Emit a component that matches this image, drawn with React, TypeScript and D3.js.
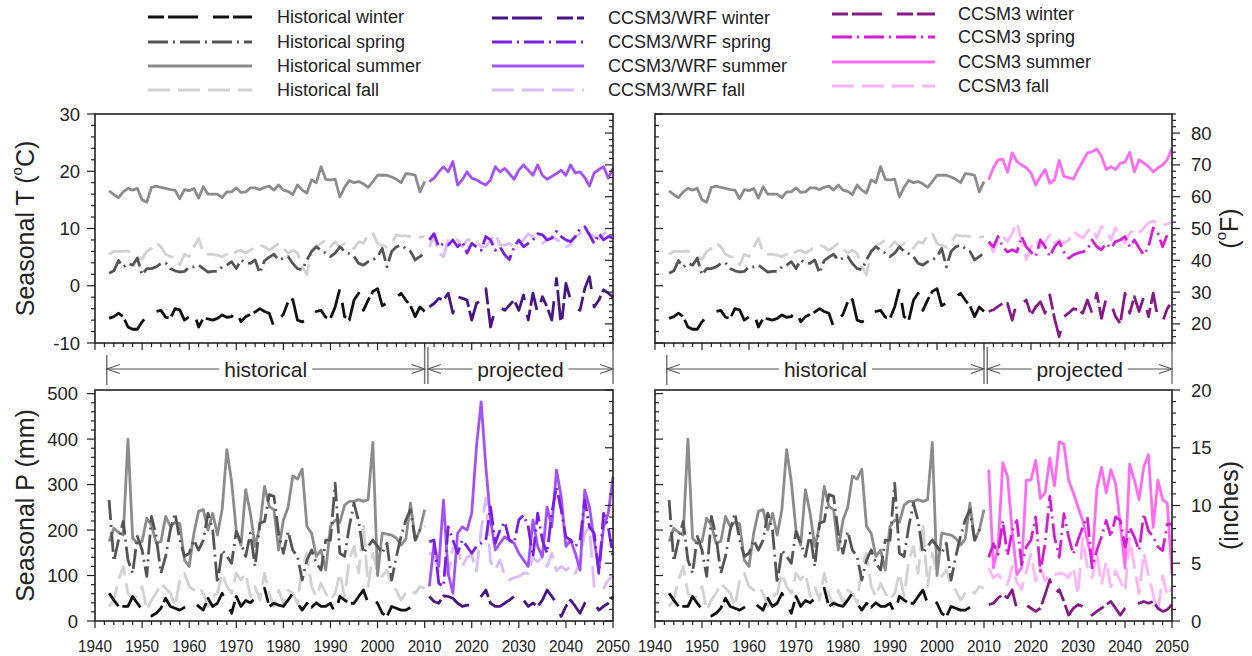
import React from 'react';
import * as d3 from 'd3';

// ---------------- DATA ----------------
const HIST_START = 1943;
const PROJ_START = 2011;

const seasons = ['winter', 'spring', 'summer', 'fall'];

// Temperature (°C)
const histWinterT = [-5.7, -5.4, -4.8, -5.4, -7.2, -7.6, -7.6, -6.3, -5.3, -4.8,
  -4.5, -4.3, -5.5, -5.7, -4.0, -4.2, -6.0, -5.4, -4.6, -7.2,
  -5.7, -5.8, -6.0, -5.7, -5.1, -5.5, -5.4, -4.2, -6.3, -5.4,
  -5.0, -4.6, -4.0, -4.5, -4.8, -7.2, -6.0, -5.0, -2.8, -2.4,
  -6.0, -6.3, -6.0, -4.8, -4.5, -4.3, -5.5, -5.7, -3.7, -0.5,
  -5.4, -6.0, -2.5, -1.3, -4.3, -2.5, -1.0, -0.5, -3.5, -3.0,
  -2.5, -2.0, -1.3, -2.5, -3.5, -5.4, -3.7, -4.5];
const histSpringT = [2.2, 2.6, 4.4, 3.3, 3.9, 3.6, 4.8, 1.9, 3.0, 3.0,
  3.3, 3.9, 4.0, 3.0, 2.6, 2.4, 2.5, 3.3, 3.3, 3.6,
  3.0, 2.4, 2.5, 2.5, 3.3, 3.6, 4.2, 3.0, 4.5, 4.0,
  3.9, 4.5, 2.2, 4.4, 5.0, 5.5, 4.5, 4.8, 5.1, 3.9,
  3.0, 2.8, 4.5, 6.0, 6.8, 6.2, 5.7, 5.1, 5.7, 6.8,
  6.0, 5.6, 5.1, 3.9, 3.6, 4.2, 4.5, 5.1, 6.5, 3.3,
  6.0, 6.8, 7.1, 6.5, 6.0, 4.5, 5.1, 5.7];
const histSummerT = [16.6, 15.9, 15.4, 16.4, 17.0, 16.7, 17.0, 15.0, 14.6, 17.2,
  17.4, 17.2, 17.0, 16.8, 16.7, 15.2, 16.8, 16.6, 17.0, 15.3,
  17.3, 16.0, 16.0, 16.0, 15.4, 16.4, 16.4, 17.1, 16.3, 16.4,
  17.1, 17.1, 16.8, 17.2, 17.4, 16.7, 17.6, 16.7, 16.5, 15.9,
  17.6, 16.7, 16.2, 18.5, 18.0, 20.8, 18.6, 18.5, 18.6, 15.5,
  17.2, 18.4, 18.0, 18.2, 17.8, 17.2, 18.2, 19.3, 19.3, 19.3,
  19.0, 18.6, 18.0, 19.6, 19.5, 19.3, 16.4, 18.2];
const histFallT = [5.5, 6.0, 6.0, 6.0, 6.1, 5.4, 5.0, 4.6, 6.0, 6.5,
  7.5, 6.8, 5.5, 5.1, 5.0, 3.6, 5.5, 5.1, 6.8, 8.3,
  5.7, 5.5, 5.5, 5.3, 5.1, 5.5, 5.1, 6.0, 6.2, 5.7,
  6.2, 6.8, 7.1, 6.8, 6.2, 6.8, 7.4, 6.5, 5.7, 6.2,
  5.7, 3.3, 1.9, 6.2, 7.0, 7.4, 8.0, 6.8, 7.7, 6.8,
  7.4, 7.0, 6.5, 7.7, 7.4, 8.9, 9.2, 7.4, 7.0, 6.8,
  7.4, 8.9, 8.7, 8.7, 8.6, 8.6, 8.5, 8.6];

const wrfWinterT = [-3.7, -3.1, -2.2, -2.5, -1.3, -4.8, -1.9, -2.2, -2.5, -6.0,
  -3.1, -2.5, -0.5, -7.2, -4.0, -3.7, -4.3, -3.4, -2.5, -4.3,
  -1.6, -6.0, -1.3, -4.8, -1.9, -3.7, -6.0, 1.3, -7.2, 0.4,
  -2.5, -3.7, -4.3, -0.5, 1.6, -3.7, -2.5, -0.7, -1.3, -2.0];
const wrfSpringT = [8.0, 9.1, 6.8, 7.4, 7.1, 8.0, 6.8, 7.7, 5.7, 7.4,
  6.8, 6.2, 8.6, 8.0, 6.2, 6.8, 5.4, 4.6, 6.8, 8.0,
  6.8, 7.4, 8.0, 9.1, 8.9, 8.0, 8.3, 9.5, 8.6, 8.0,
  7.7, 8.6, 10.0, 10.3, 8.9, 7.4, 9.1, 8.0, 8.6, 8.3];
const wrfSummerT = [18.2, 18.8, 19.9, 20.8, 19.9, 21.7, 17.6, 18.5, 19.9, 18.8,
  18.5, 18.0, 17.6, 18.5, 20.8, 19.9, 20.5, 19.6, 18.6, 20.2,
  21.1, 20.2, 19.3, 21.1, 19.3, 18.6, 19.1, 19.6, 20.2, 19.3,
  21.1, 19.7, 19.9, 18.9, 17.4, 19.7, 20.3, 20.8, 18.8, 20.5];
const wrfFallT = [6.8, 8.6, 5.7, 5.1, 8.0, 8.3, 8.0, 6.8, 8.0, 8.0,
  7.7, 6.8, 6.8, 8.0, 9.1, 7.1, 7.1, 7.4, 6.8, 7.4,
  8.0, 9.1, 8.6, 7.7, 7.4, 8.0, 8.6, 8.0, 7.7, 6.8,
  7.2, 8.6, 9.1, 9.5, 9.1, 8.6, 8.2, 9.1, 9.5, 9.3];

const ccsmWinterT = [-4.5, -4.2, -3.6, -3.1, -3.1, -6.0, -2.8, -3.1, -2.5, -5.1,
  -3.7, -2.8, -4.8, -1.6, -5.7, -8.9, -5.4, -4.8, -4.0, -4.2,
  -4.8, -2.5, -4.8, -1.3, -5.7, -2.2, -3.1, -5.4, -6.6, -1.3,
  -4.8, -1.9, -4.5, -1.9, -5.4, -1.3, -5.7, -6.3, -4.0, -2.8];
const ccsmSpringT = [7.7, 6.8, 8.6, 6.8, 5.9, 6.3, 5.9, 8.6, 6.8, 5.9,
  5.1, 8.0, 6.8, 5.1, 6.8, 7.7, 5.9, 4.8, 5.4, 5.7,
  5.9, 6.3, 8.0, 6.8, 6.3, 7.4, 6.6, 7.7, 8.0, 8.6,
  6.8, 8.0, 6.6, 5.4, 6.8, 10.1, 9.2, 6.8, 8.9, 9.0];
const ccsmSummerT = [18.5, 20.6, 22.0, 22.1, 19.8, 23.2, 21.7, 21.1, 20.6, 19.7,
  17.6, 19.1, 20.3, 17.9, 18.5, 21.9, 19.1, 18.9, 18.6, 20.3,
  21.7, 23.2, 23.4, 23.9, 22.6, 20.3, 20.8, 20.3, 21.4, 21.6,
  23.3, 19.9, 22.0, 21.4, 20.8, 19.9, 20.6, 21.1, 22.0, 24.0];
const ccsmFallT = [7.4, 5.9, 8.3, 8.6, 7.7, 9.2, 11.0, 8.0, 4.5, 6.8,
  8.0, 6.8, 7.7, 8.9, 7.4, 8.0, 7.4, 8.0, 9.5, 8.9,
  8.3, 9.5, 10.1, 8.3, 10.4, 9.5, 8.0, 10.1, 8.6, 7.4,
  9.2, 9.8, 9.2, 10.1, 11.0, 11.3, 10.9, 10.5, 10.8, 11.0];

// Precipitation (mm)
const histWinterP = [61, 46, 32, 32, 32, 54, 39, 25, 10, 11,
  17, 28, 50, 32, 28, 24, 30, 35, 43, 32,
  24, 50, 32, 39, 61, 39, 17, 54, 32, 45,
  40, 50, 61, 72, 32, 39, 35, 32, 46, 61,
  39, 24, 39, 30, 40, 32, 32, 39, 17, 54,
  46, 39, 39, 54, 68, 39, 50, 39, 17, 10,
  32, 28, 24, 24, 30, 35, 38, 39];
const histSpringP = [266, 131, 178, 219, 134, 105, 186, 156, 98, 230,
  186, 105, 142, 200, 237, 178, 142, 149, 178, 156,
  178, 237, 200, 83, 156, 142, 127, 197, 171, 142,
  193, 120, 215, 219, 278, 274, 193, 149, 197, 156,
  142, 90, 134, 156, 127, 112, 178, 178, 303, 149,
  142, 208, 259, 219, 149, 164, 178, 164, 149, 171,
  90, 142, 186, 222, 245, 178, 200, 208];
const histSummerP = [175, 204, 195, 189, 400, 182, 171, 175, 226, 211,
  171, 175, 230, 208, 217, 214, 134, 120, 193, 241,
  245, 200, 237, 189, 245, 377, 307, 200, 167, 289,
  237, 164, 208, 296, 252, 245, 156, 222, 250, 319,
  312, 334, 208, 193, 142, 156, 112, 208, 222, 217,
  255, 263, 263, 267, 263, 267, 393, 100, 193, 191,
  189, 182, 167, 180, 259, 178, 200, 245];
const histFallP = [32, 46, 90, 120, 61, 50, 54, 76, 24, 46,
  61, 83, 72, 61, 32, 90, 105, 76, 68, 76,
  61, 32, 54, 61, 105, 76, 61, 105, 90, 105,
  54, 76, 46, 105, 61, 32, 68, 39, 68, 61,
  39, 120, 149, 76, 54, 83, 61, 46, 61, 105,
  54, 134, 164, 105, 215, 76, 149, 105, 98, 112,
  76, 68, 46, 61, 68, 61, 76, 72];

const wrfWinterP = [54, 43, 39, 55, 54, 50, 39, 32, 35, 35,
  40, 54, 68, 39, 32, 32, 39, 46, 54, 39,
  46, 32, 39, 32, 46, 68, 54, 39, 10, 32,
  46, 32, 17, 39, 46, 39, 24, 32, 39, 54];
const wrfSpringP = [174, 178, 83, 76, 207, 178, 149, 178, 164, 149,
  164, 171, 178, 251, 171, 200, 218, 178, 171, 222,
  233, 207, 141, 237, 178, 149, 237, 295, 244, 185,
  178, 164, 178, 266, 207, 193, 105, 237, 207, 141];
const wrfSummerP = [76, 171, 120, 266, 105, 61, 193, 207, 200, 237,
  383, 482, 339, 222, 156, 171, 185, 178, 171, 149,
  134, 120, 222, 164, 141, 251, 207, 332, 273, 164,
  178, 149, 112, 288, 251, 178, 112, 207, 237, 317];
const wrfFallP = [150, 140, 110, 120, 100, 160, 160, 120, 140, 145,
  110, 200, 270, 130, 112, 134, 100, 90, 95, 98,
  105, 105, 140, 130, 141, 120, 149, 110, 120, 112,
  120, 105, 130, 193, 207, 76, 70, 72, 90, 98];

const ccsmWinterP = [36, 39, 51, 58, 51, 69, 25, 30, 35, 28,
  21, 28, 58, 91, 58, 69, 43, 13, 28, 36,
  32, 36, 13, 21, 28, 36, 43, 28, 13, 28,
  36, 43, 39, 43, 39, 43, 28, 21, 25, 36];
const ccsmSpringP = [140, 170, 147, 221, 144, 198, 221, 124, 163, 178,
  229, 109, 170, 274, 185, 140, 236, 185, 147, 178,
  206, 229, 117, 155, 185, 221, 185, 229, 221, 163,
  206, 185, 155, 236, 198, 185, 163, 155, 213, 213];
const ccsmSummerP = [333, 117, 163, 348, 318, 198, 102, 117, 310, 310,
  353, 269, 282, 358, 297, 394, 389, 310, 282, 251,
  221, 178, 132, 290, 338, 282, 333, 302, 213, 117,
  345, 310, 267, 340, 366, 206, 310, 267, 259, 102];
const ccsmFallP = [116, 95, 103, 88, 80, 120, 84, 70, 110, 147,
  88, 118, 88, 103, 101, 105, 103, 95, 118, 58,
  182, 120, 95, 150, 80, 130, 75, 110, 88, 65,
  182, 120, 60, 150, 100, 58, 21, 99, 55, 73];

// Axis ticks / labels
const tempTicksC = [-10, 0, 10, 20, 30];
const tempTicksF = [20, 30, 40, 50, 60, 70, 80];
const precipTicksMm = [0, 100, 200, 300, 400, 500];
const precipTicksIn = [0, 5, 10, 15, 20];
const yearTicks = [1940, 1950, 1960, 1970, 1980, 1990, 2000, 2010, 2020, 2030, 2040, 2050];

// Legend
const legendGroups = ['Historical', 'CCSM3/WRF', 'CCSM3'];

// ---------------- STYLES ----------------
const FONT = "Arial, 'Liberation Sans', Helvetica, sans-serif";
const TXT = '#222';
const AX = '#222';
const DASH: Record<string, string | undefined> = {
  winter: '16,4,30,15',
  spring: '20,5,2,5',
  summer: undefined,
  fall: '22,8',
};
const COLORS: Record<string, Record<string, string>> = {
  Historical: { winter: '#111111', spring: '#555555', summer: '#8c8c8c', fall: '#d2d2d2' },
  'CCSM3/WRF': { winter: '#4a1486', spring: '#7a1fe6', summer: '#a352f7', fall: '#dbbcfb' },
  CCSM3: { winter: '#861a86', spring: '#d21fd2', summer: '#ff6cf3', fall: '#ffb5f8' },
};

// ---------------- SCALES ----------------
const xL = d3.scaleLinear().domain([1940, 2050]).range([95, 613]);
const xR = d3.scaleLinear().domain([1940, 2050]).range([655, 1172]);
const yT = d3.scaleLinear().domain([-10, 30]).range([343, 114]);
const yF = d3.scaleLinear().domain([14, 86]).range([343, 114]);
const yP = d3.scaleLinear().domain([0, 508]).range([621, 390]);
const yIn = d3.scaleLinear().domain([0, 20]).range([621, 390]);

type Scale = d3.ScaleLinear<number, number>;

function linePath(values: number[], start: number, xs: Scale, ys: Scale) {
  return d3.line<number>().x((_, i) => xs(start + i)).y((d) => ys(d))(values) || '';
}

function SeriesSet({ sets, start, xs, ys, group }: { sets: number[][]; start: number; xs: Scale; ys: Scale; group: string }) {
  // draw order: fall, summer, spring, winter
  const order = [3, 2, 1, 0];
  return (
    <g>
      {order.map((k) => (
        <path key={k} d={linePath(sets[k], start, xs, ys)} fill="none"
          stroke={COLORS[group][seasons[k]]} strokeWidth={2.8}
          strokeDasharray={DASH[seasons[k]]} strokeLinejoin="round" />
      ))}
    </g>
  );
}

function vTicks(ys: Scale, lo: number, hi: number, minorStep: number, majors: number[], x: number, dir: number) {
  const vals = d3.range(lo, hi + 1e-6, minorStep);
  return vals.map((v, i) => {
    const isMajor = majors.some((m) => Math.abs(m - v) < 1e-6);
    const len = isMajor ? 8 : 4;
    return <line key={'v' + i} x1={x} x2={x + dir * len} y1={ys(v)} y2={ys(v)} stroke={AX} strokeWidth={1.2} />;
  });
}

function hTicks(xs: Scale, y: number) {
  const vals = d3.range(1940, 2051, 2);
  return vals.map((v, i) => {
    const isMajor = v % 10 === 0;
    const len = isMajor ? 7 : 4;
    return <line key={'h' + i} x1={xs(v)} x2={xs(v)} y1={y} y2={y + len} stroke={AX} strokeWidth={1.2} />;
  });
}

function Frame({ xs, ys }: { xs: Scale; ys: Scale }) {
  const [x0, x1] = xs.range();
  const [y0, y1] = ys.range();
  return <rect x={x0} y={y1} width={x1 - x0} height={y0 - y1} fill="none" stroke={AX} strokeWidth={1.6} />;
}

function PeriodArrow({ xs, y }: { xs: Scale; y: number }) {
  const a = xs(1942.5), b = xs(2010), c = xs(2010.7), d = xs(2050);
  const hw = 83 / 2, pw = 86 / 2;
  const hc = (a + b) / 2, pc = (c + d) / 2;
  const col = '#555';
  const head = (x: number, dir: number) => (
    <path d={`M${x + dir * 13},${y - 4.5}L${x},${y}L${x + dir * 13},${y + 4.5}`} fill="none" stroke={col} strokeWidth={1.1} />
  );
  return (
    <g>
      <line x1={a} x2={a} y1={355} y2={385} stroke="#777" strokeWidth={1.5} />
      <line x1={b} x2={b} y1={347} y2={384} stroke="#777" strokeWidth={1.5} />
      <line x1={c} x2={c} y1={347} y2={384} stroke="#777" strokeWidth={1.5} />
      <line x1={d} x2={d} y1={347} y2={384} stroke="#777" strokeWidth={1.5} />
      <line x1={a} x2={hc - hw - 5} y1={y} y2={y} stroke={col} strokeWidth={1.1} />
      <line x1={hc + hw + 5} x2={b} y1={y} y2={y} stroke={col} strokeWidth={1.1} />
      <line x1={c} x2={pc - pw - 5} y1={y} y2={y} stroke={col} strokeWidth={1.1} />
      <line x1={pc + pw + 5} x2={d} y1={y} y2={y} stroke={col} strokeWidth={1.1} />
      {head(a, 1)}{head(b, -1)}{head(c, 1)}{head(d, -1)}
      <text x={hc} y={y} textAnchor="middle" dominantBaseline="central" fontSize={21} fill={TXT} fontFamily={FONT}>historical</text>
      <text x={pc} y={y} textAnchor="middle" dominantBaseline="central" fontSize={21} fill={TXT} fontFamily={FONT}>projected</text>
    </g>
  );
}

export default function App() {
  const histT = [histWinterT, histSpringT, histSummerT, histFallT];
  const wrfT = [wrfWinterT, wrfSpringT, wrfSummerT, wrfFallT];
  const ccsmT = [ccsmWinterT, ccsmSpringT, ccsmSummerT, ccsmFallT];
  const histP = [histWinterP, histSpringP, histSummerP, histFallP];
  const wrfP = [wrfWinterP, wrfSpringP, wrfSummerP, wrfFallP];
  const ccsmP = [ccsmWinterP, ccsmSpringP, ccsmSummerP, ccsmFallP];

  const legendCols = [
    { lx: 148, lw: 104, tx: 277, rows: [17, 42, 66, 90] },
    { lx: 492, lw: 92, tx: 608, rows: [18, 42, 66, 90] },
    { lx: 832, lw: 103, tx: 958, rows: [14, 37, 62, 86] },
  ];

  return (
    <div style={{ position: 'fixed', left: 0, top: 0, width: 1252, height: 656, background: '#fff' }}>
      <svg width={1252} height={656} viewBox="0 0 1252 656" style={{ display: 'block' }}>
        <rect x={0} y={0} width={1252} height={656} fill="#fff" />

        {/* Legend */}
        {legendGroups.map((g, gi) => {
          const c = legendCols[gi];
          return (
            <g key={g}>
              {seasons.map((s, si) => (
                <g key={s}>
                  <line x1={c.lx} x2={c.lx + c.lw} y1={c.rows[si]} y2={c.rows[si]} stroke={COLORS[g][s]} strokeWidth={3.2} strokeDasharray={DASH[s]} />
                  <text x={c.tx} y={c.rows[si]} dominantBaseline="central" fontSize={18} fill={TXT} fontFamily={FONT}>{`${g} ${s}`}</text>
                </g>
              ))}
            </g>
          );
        })}

        {/* Top-left: temperature, historical + CCSM3/WRF */}
        <SeriesSet sets={histT} start={HIST_START} xs={xL} ys={yT} group="Historical" />
        <SeriesSet sets={wrfT} start={PROJ_START} xs={xL} ys={yT} group="CCSM3/WRF" />
        <Frame xs={xL} ys={yT} />
        {vTicks(yT, -10, 30, 2, tempTicksC, 95, -1)}
        {vTicks(yF, 14, 86, 2, tempTicksF, 613, -1)}
        {hTicks(xL, 343)}
        {tempTicksC.map((v) => (
          <text key={'tl' + v} x={80} y={yT(v)} textAnchor="end" dominantBaseline="central" fontSize={18.5} fill={TXT} fontFamily={FONT}>{v}</text>
        ))}

        {/* Top-right: temperature, historical + CCSM3 */}
        <SeriesSet sets={histT} start={HIST_START} xs={xR} ys={yT} group="Historical" />
        <SeriesSet sets={ccsmT} start={PROJ_START} xs={xR} ys={yT} group="CCSM3" />
        <Frame xs={xR} ys={yT} />
        {vTicks(yT, -10, 30, 2, tempTicksC, 655, 1)}
        {vTicks(yF, 14, 86, 2, tempTicksF, 1172, 1)}
        {hTicks(xR, 343)}
        {tempTicksF.map((v) => (
          <text key={'tr' + v} x={1191} y={yF(v)} textAnchor="start" dominantBaseline="central" fontSize={18.5} fill={TXT} fontFamily={FONT}>{v}</text>
        ))}

        {/* Bottom-left: precipitation, historical + CCSM3/WRF */}
        <SeriesSet sets={histP} start={HIST_START} xs={xL} ys={yP} group="Historical" />
        <SeriesSet sets={wrfP} start={PROJ_START} xs={xL} ys={yP} group="CCSM3/WRF" />
        <Frame xs={xL} ys={yP} />
        {vTicks(yP, 0, 500, 20, precipTicksMm, 95, -1)}
        {vTicks(yIn, 0, 20, 1, precipTicksIn, 613, -1)}
        {hTicks(xL, 621)}
        {precipTicksMm.map((v) => (
          <text key={'bl' + v} x={78} y={yP(v)} textAnchor="end" dominantBaseline="central" fontSize={18.5} fill={TXT} fontFamily={FONT}>{v}</text>
        ))}

        {/* Bottom-right: precipitation, historical + CCSM3 */}
        <SeriesSet sets={histP} start={HIST_START} xs={xR} ys={yP} group="Historical" />
        <SeriesSet sets={ccsmP} start={PROJ_START} xs={xR} ys={yP} group="CCSM3" />
        <Frame xs={xR} ys={yP} />
        {vTicks(yP, 0, 500, 20, precipTicksMm, 655, 1)}
        {vTicks(yIn, 0, 20, 1, precipTicksIn, 1172, 1)}
        {hTicks(xR, 621)}
        {precipTicksIn.map((v) => (
          <text key={'br' + v} x={1191} y={yIn(v)} textAnchor="start" dominantBaseline="central" fontSize={18.5} fill={TXT} fontFamily={FONT}>{v}</text>
        ))}

        {/* Year labels */}
        {yearTicks.map((v) => (
          <text key={'xl' + v} x={xL(v)} y={652} textAnchor="middle" fontSize={17} textLength={34} lengthAdjust="spacingAndGlyphs" fill={TXT} fontFamily={FONT}>{v}</text>
        ))}
        {yearTicks.map((v) => (
          <text key={'xr' + v} x={xR(v)} y={652} textAnchor="middle" fontSize={17} textLength={34} lengthAdjust="spacingAndGlyphs" fill={TXT} fontFamily={FONT}>{v}</text>
        ))}

        {/* Period arrows */}
        <PeriodArrow xs={xL} y={369} />
        <PeriodArrow xs={xR} y={369} />

        {/* Axis titles */}
        <text transform={`translate(25,${(114 + 343) / 2}) rotate(-90)`} textAnchor="middle" dominantBaseline="central" fontSize={25} fill={TXT} fontFamily={FONT}>
          Seasonal T (<tspan fontSize={15} dy={-9}>o</tspan><tspan dy={9}>C)</tspan>
        </text>
        <text transform={`translate(25,${(390 + 621) / 2}) rotate(-90)`} textAnchor="middle" dominantBaseline="central" fontSize={25} fill={TXT} fontFamily={FONT}>
          Seasonal P (mm)
        </text>
        <text transform={`translate(1229,${(114 + 343) / 2}) rotate(-90)`} textAnchor="middle" dominantBaseline="central" fontSize={25} fill={TXT} fontFamily={FONT}>
          (<tspan fontSize={15} dy={-9}>o</tspan><tspan dy={9}>F)</tspan>
        </text>
        <text transform={`translate(1229,${(390 + 621) / 2}) rotate(-90)`} textAnchor="middle" dominantBaseline="central" fontSize={25} fill={TXT} fontFamily={FONT}>
          (inches)
        </text>
      </svg>
    </div>
  );
}
